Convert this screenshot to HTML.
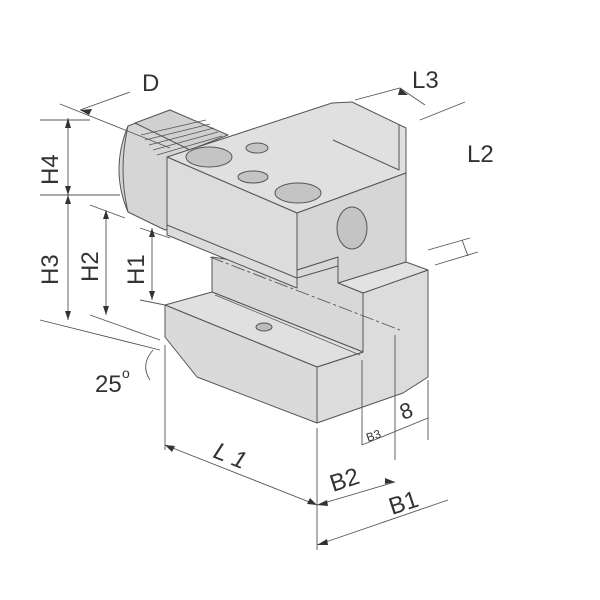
<!DOCTYPE html>
<html><head><style>body{margin:0;background:#fff}svg{display:block}text{font-family:"Liberation Sans",sans-serif;fill:#333}</style></head><body>
<svg width="600" height="600" viewBox="0 0 600 600" xmlns="http://www.w3.org/2000/svg">
<g stroke="#555" stroke-width="1" stroke-linejoin="round">
<!-- shank -->
<path d="M128,126 L170,110 L217,132 L217,215 L165,230 L128,212 Q110,170 128,126 Z" fill="#d6d6d6"/>
<path d="M128,126 Q118,170 128,212" fill="none"/>
<path d="M135,123 L170,110 L228,135 L190,150 Z" fill="#d0d0d0"/>
<g stroke-width="0.8" fill="none"><path d="M141,135 L206,120 M145,140 L210,124 M149,145 L214,128 M153,150 L218,132 M157,155 L222,136"/></g>
<!-- lower jaw right block -->
<path d="M363,293 L428,270 L428,377 L403,393 L317,423 L317,367 L363,352 Z" fill="#dcdcdc"/>
<path d="M338,283 L363,293 L428,270 L406,262 Z" fill="#e2e2e2"/>
<path d="M317,367 L363,352 M363,293 L363,352" fill="none"/>
<!-- middle web -->
<path d="M212,257 L297,270 L338,257 L338,283 L363,293 L363,352 L212,292 Z" fill="#d8d8d8"/>
<!-- lower jaw -->
<path d="M165,305 L212,292 L363,352 L317,367 Z" fill="#e0e0e0"/>
<path d="M165,305 L317,367 L317,423 L197,377 L165,337 Z" fill="#dadada"/>
<path d="M215,295 L360,355" stroke-width="0.7" fill="none"/>
<ellipse cx="264" cy="327" rx="8" ry="4" fill="#bbb"/>
<!-- upper block -->
<path d="M167,157 L332,103 L352,102 L406,128 L406,173 L297,213 Z" fill="#e0e0e0"/>
<path d="M167,157 L297,213 L297,288 L167,235 Z" fill="#dcdcdc"/>
<path d="M297,213 L406,173 L406,262 L338,283 L338,257 L297,270 Z" fill="#d6d6d6"/>
<path d="M333,140 L399,170 L399,125 M167,225 L297,278 L338,266" fill="none"/>
<ellipse cx="209" cy="157" rx="23" ry="10" fill="#c4c4c4"/>
<ellipse cx="257" cy="148" rx="11" ry="5" fill="#c4c4c4"/>
<ellipse cx="253" cy="177" rx="15" ry="6" fill="#c4c4c4"/>
<ellipse cx="298" cy="193" rx="23" ry="10" fill="#c4c4c4"/>
<ellipse cx="352" cy="228" rx="15" ry="21" fill="#c4c4c4"/>
</g>
<!-- dimension lines -->
<g stroke="#555" stroke-width="0.9" fill="none">
<path d="M60,104 L170,148 M80,110 L130,92 M355,100 L400,88 L425,105 M420,120 L465,102"/>
<path d="M68,118 L68,320 M40,120 L90,120 M40,195 L120,195 M40,320 L160,350"/>
<path d="M106,210 L106,315 M90,205 L125,218 M90,315 L160,340 M152,228 L152,300 M140,228 L170,238 M140,300 L165,305"/>
<path d="M435,265 L478,252 M428,250 L470,238 M462,240 L468,256"/>
<path d="M165,345 L165,450 M317,428 L317,550 M395,335 L395,460 M362,360 L362,445 M428,380 L428,440"/>
<path d="M165,445 L317,505 L395,482 M317,545 L448,500 M362,445 L428,418"/>
<path d="M153,350 Q140,365 150,380" />
<path d="M210,257 L400,330" stroke-dasharray="14,3,3,3"/>
</g>
<g fill="#333">
<path d="M80,110 l12,-1 l-3,6 z M68,118 l-3,10 h6 z M68,195 l-3,-9 h6 z M68,195 l-3,9 h6 z M68,320 l-3,-9 h6 z M106,210 l-3,9 h6 z M106,315 l-3,-9 h6 z M152,228 l-3,9 h6 z M152,300 l-3,-9 h6 z M165,445 l10,1 l-3,6 z M317,505 l-10,-1 l3,-6 z M317,505 l10,-5 l1,6 z M395,482 l-10,2 l0,-6 z M317,545 l10,-6 l1,6 z M400,88 l8,7 l-10,0z"/>
</g>
<text x="142" y="91" font-size="24">D</text>
<text x="412" y="88" font-size="24">L3</text>
<text x="467" y="162" font-size="24">L2</text>
<text x="95" y="392" font-size="24">25</text><text x="122" y="378" font-size="14">o</text>
<text transform="translate(58,185) rotate(-90)" font-size="24">H4</text>
<text transform="translate(58,285) rotate(-90)" font-size="24">H3</text>
<text transform="translate(98,282) rotate(-90)" font-size="24">H2</text>
<text transform="translate(144,285) rotate(-90)" font-size="24">H1</text>
<text transform="translate(212,457) rotate(22)" font-size="24" font-style="italic">L 1</text>
<text transform="translate(333,492) rotate(-18)" font-size="24">B2</text>
<text transform="translate(392,515) rotate(-18)" font-size="24">B1</text>
<text transform="translate(368,442) rotate(-20)" font-size="12">B3</text>
<text transform="translate(403,420) rotate(-20)" font-size="22">8</text>
</svg>
</body></html>
